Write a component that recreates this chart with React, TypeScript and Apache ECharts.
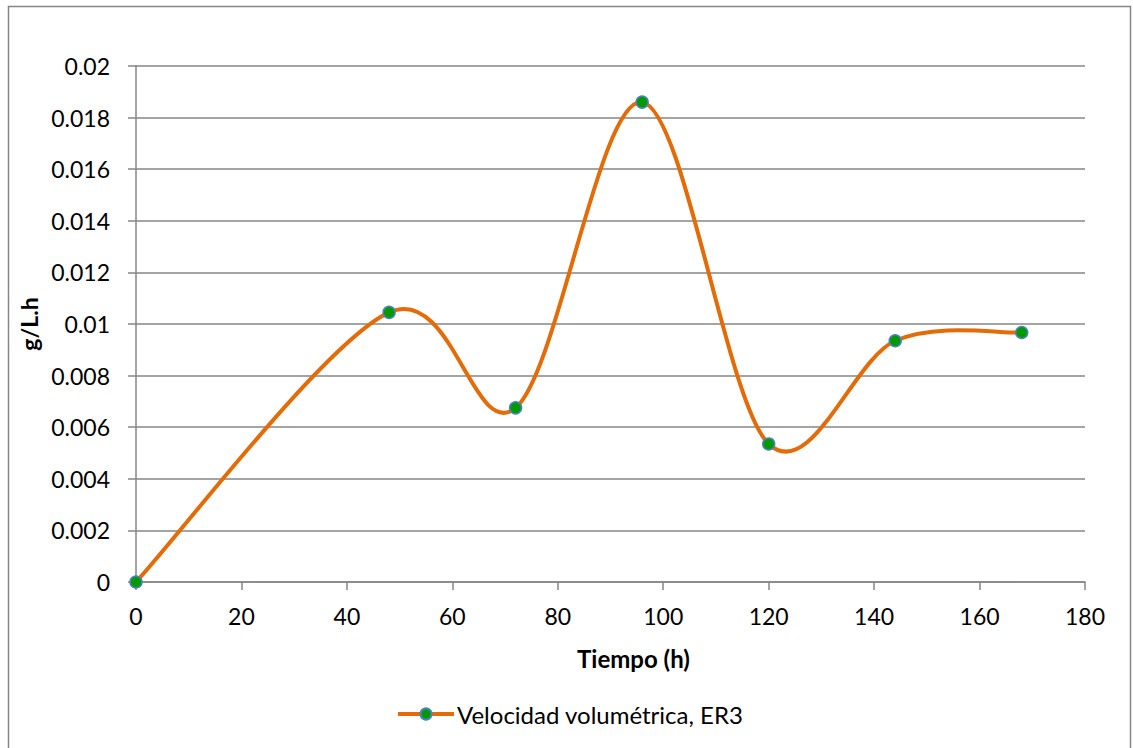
import React, { useEffect, useRef } from "react";
import * as echarts from "echarts";

const hours = [0, 48, 72, 96, 120, 144, 168];
const velocity = [0, 0.01045, 0.00675, 0.0186, 0.00535, 0.00935, 0.00967];
const seriesName = "Velocidad volumétrica, ER3";
const xTitle = "Tiempo (h)";
const yTitle = "g/L.h";

const FONT = "Lato, 'Open Sans', sans-serif";
const GRID_COLOR = "#868686";
const LINE_COLOR = "#e36c09";
const TENSION = 1 / 6;

export default function App() {
  const ref = useRef<HTMLDivElement>(null);
  useEffect(() => {
    if (!ref.current) return;
    const chart = echarts.init(ref.current, null, { renderer: "svg" });
    const n = hours.length;
    const pt = (api: any, j: number) => {
      const k = Math.max(0, Math.min(n - 1, j));
      return api.coord([hours[k], velocity[k]]);
    };
    chart.setOption({
      animation: false,
      backgroundColor: "#ffffff",
      textStyle: { fontFamily: FONT },
      grid: { left: 136, right: 48, top: 66, bottom: 166 },
      graphic: [
        {
          type: "rect",
          shape: { x: 8.5, y: 6.5, width: 1122, height: 770 },
          style: { fill: "none", stroke: GRID_COLOR, lineWidth: 1.5 },
          silent: true,
        },
      ],
      xAxis: {
        type: "value",
        min: 0,
        max: 180,
        interval: 20,
        name: xTitle,
        nameLocation: "middle",
        nameGap: 64,
        nameTextStyle: { fontSize: 24, fontWeight: "bold", color: "#000", fontFamily: FONT, padding: [0, 0, 0, 46] },
        axisLine: { show: true, onZero: false, lineStyle: { color: GRID_COLOR, width: 1.5 } },
        axisTick: { show: true, length: 8, lineStyle: { color: GRID_COLOR, width: 1.5 } },
        axisLabel: { fontSize: 23, color: "#000", margin: 22, fontFamily: FONT },
        splitLine: { show: false },
      },
      yAxis: {
        type: "value",
        min: 0,
        max: 0.02,
        interval: 0.002,
        name: yTitle,
        nameLocation: "middle",
        nameGap: 92,
        nameRotate: 90,
        nameTextStyle: { fontSize: 23, fontWeight: "bold", color: "#000", fontFamily: FONT },
        axisLine: { show: true, lineStyle: { color: GRID_COLOR, width: 1.5 } },
        axisTick: { show: true, length: 8, lineStyle: { color: GRID_COLOR, width: 1.5 } },
        axisLabel: {
          fontSize: 23,
          color: "#000",
          margin: 26,
          fontFamily: FONT,
          formatter: (v: number) => (v === 0 ? "0" : String(parseFloat(v.toFixed(3)))),
        },
        splitLine: { show: true, lineStyle: { color: GRID_COLOR, width: 1.5 } },
      },
      legend: {
        show: true,
        bottom: 22,
        left: 396,
        padding: 0,
        itemWidth: 56,
        itemHeight: 14,
        itemGap: 4,
        lineStyle: { color: LINE_COLOR, width: 4, opacity: 1 },
        textStyle: { fontSize: 24, color: "#000", fontFamily: FONT, padding: [0, 0, 0, -2] },
        data: [{ name: seriesName }],
      },
      series: [
        {
          name: "curve",
          type: "custom",
          data: hours.map((h, i) => [h, velocity[i]]),
          z: 2,
          silent: true,
          renderItem: (params: any, api: any) => {
            const i = params.dataIndex;
            if (i >= n - 1) return { type: "group", children: [] };
            const p0 = pt(api, i - 1);
            const p1 = pt(api, i);
            const p2 = pt(api, i + 1);
            const p3 = pt(api, i + 2);
            return {
              type: "bezierCurve",
              shape: {
                x1: p1[0],
                y1: p1[1],
                x2: p2[0],
                y2: p2[1],
                cpx1: p1[0] + (p2[0] - p0[0]) * TENSION,
                cpy1: p1[1] + (p2[1] - p0[1]) * TENSION,
                cpx2: p2[0] - (p3[0] - p1[0]) * TENSION,
                cpy2: p2[1] - (p3[1] - p1[1]) * TENSION,
              },
              style: { fill: "none", stroke: LINE_COLOR, lineWidth: 4, lineCap: "round" },
            };
          },
        },
        {
          name: seriesName,
          type: "line",
          data: hours.map((h, i) => [h, velocity[i]]),
          symbol: "circle",
          symbolSize: 12,
          lineStyle: { color: LINE_COLOR, width: 4, opacity: 0 },
          itemStyle: { color: "#009a00", borderColor: "#4f81bd", borderWidth: 1.5 },
          z: 3,
        },
      ],
    });
    return () => chart.dispose();
  }, []);
  return (
    <div
      ref={ref}
      style={{ position: "absolute", left: 0, top: 0, width: 1133, height: 748 }}
    />
  );
}
